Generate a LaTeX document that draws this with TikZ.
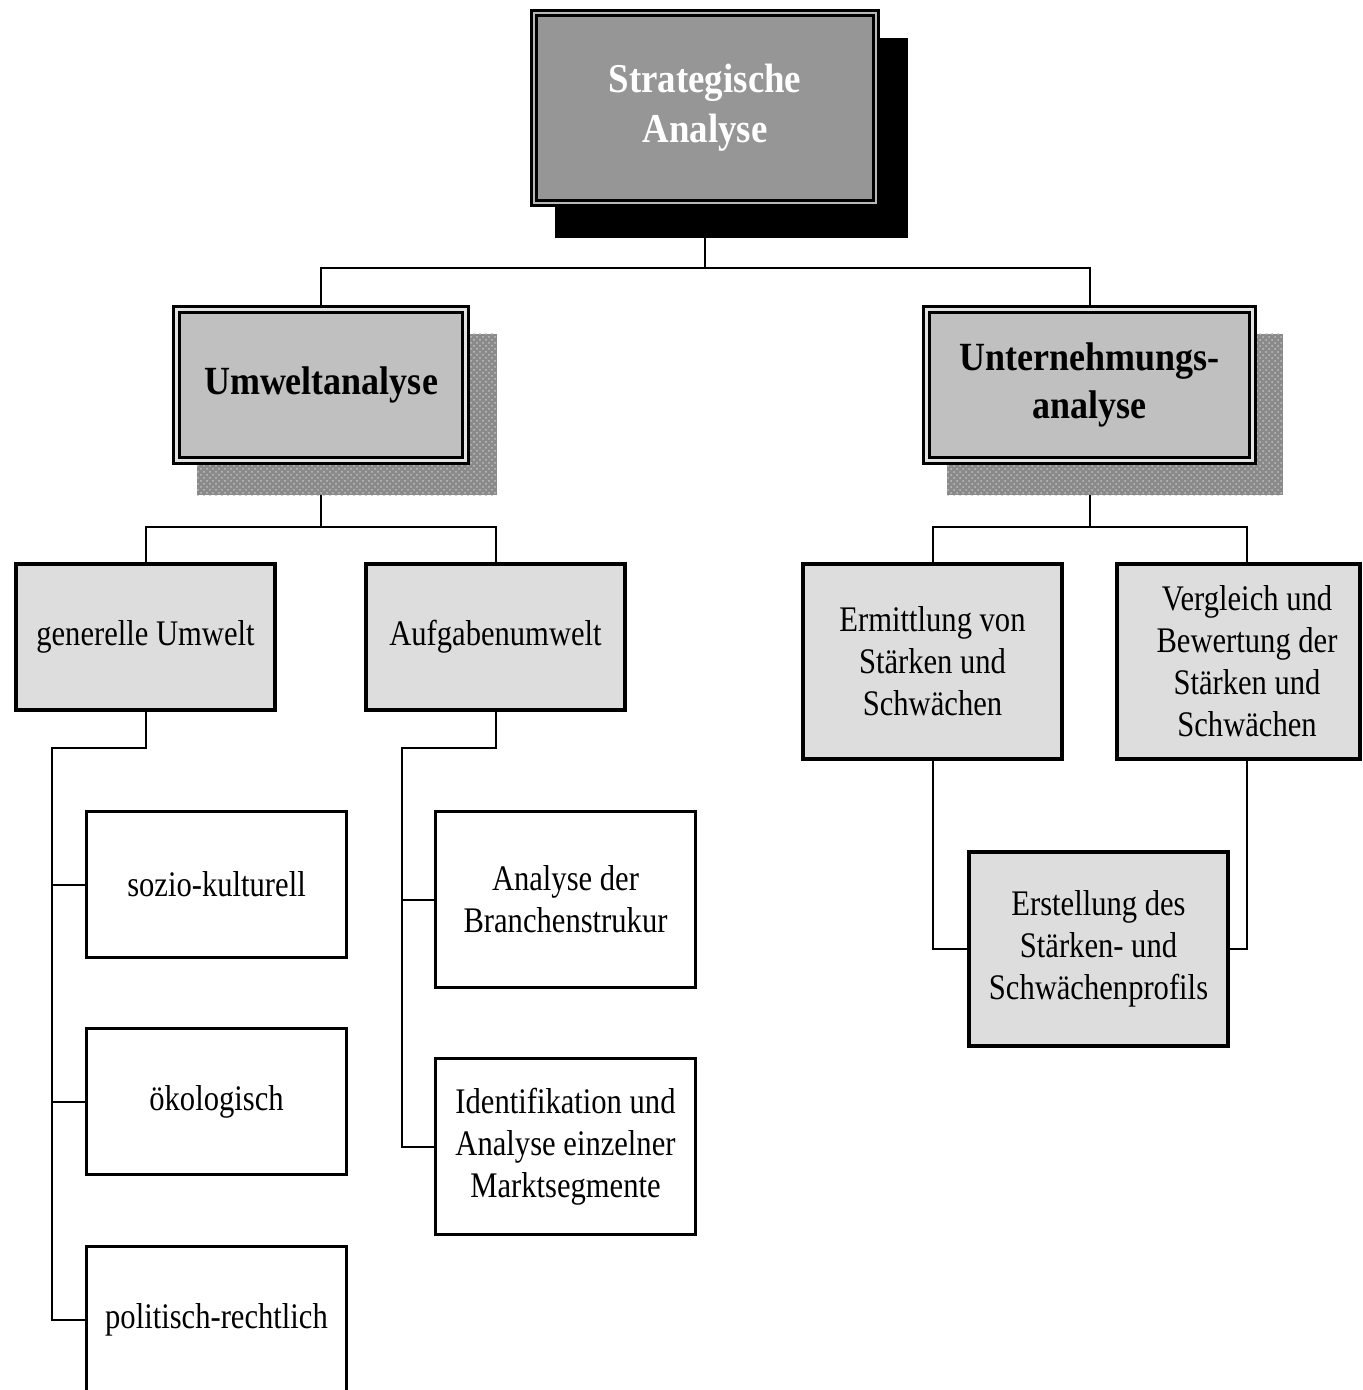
\documentclass[tikz,border=0pt]{standalone}
\usepackage{fontspec}
\setmainfont{Liberation Serif}
\newfontfamily\narrowserif[FakeStretch=0.85]{Liberation Serif}
\newfontfamily\headserif[FakeStretch=0.9]{Liberation Serif}
\usepackage{tikz}
\usetikzlibrary{patterns}
\definecolor{topfill}{HTML}{969696}
\definecolor{midfill}{HTML}{C0C0C0}
\definecolor{lowfill}{HTML}{DDDDDD}
\definecolor{gapgray}{HTML}{B8B8B8}
\definecolor{dotgray}{HTML}{8A8A8A}
\definecolor{dotlight}{HTML}{BEBEBE}
\newcommand\topfont{\headserif\fontsize{20.5}{25}\selectfont\bfseries}
\newcommand\headfont{\headserif\fontsize{20}{24}\selectfont\bfseries}
\newcommand\leaffont{\narrowserif\fontsize{18}{21}\selectfont}
\tikzset{blackshade/.style={fill=black, inner sep=0pt}}
\tikzset{dotshade/.style={fill=dotgray, inner sep=0pt, postaction={pattern=crosshatch dots, pattern color=dotlight}}}
\tikzset{topbox/.style={draw, fill=topfill, line width=1.6pt, double=gapgray, double distance=1.2pt, align=center, text=white, font=\topfont}}
\tikzset{midbox/.style={draw, fill=midfill, line width=1.6pt, double=gapgray!40!white, double distance=1.2pt, align=center, font=\headfont}}
\tikzset{lowbox/.style={draw, fill=lowfill, line width=1.75pt, align=center, font=\leaffont}}
\tikzset{leafbox/.style={draw, fill=white, line width=1.75pt, align=center, font=\leaffont, minimum width=130pt}}
\tikzset{conn/.style={line width=1pt}}

\begin{document}
\begin{tikzpicture}[x=0.5pt,y=-0.5pt]
    \clip (0,0) rectangle (1362,1390);

    \node[blackshade, minimum width=176.5pt, minimum height=100pt] at (731.5,138) (sash){};
    \node[topbox, minimum width=171pt, minimum height=95pt] at (705,108) (sa){Strategische\\Analyse};

    \node[dotshade, minimum width=150pt, minimum height=80.5pt] at (347,414.5) (umsh){};
    \node[midbox, minimum width=144.5pt, minimum height=75.5pt] at (321,385) (um){Umweltanalyse};
    \node[dotshade, minimum width=168pt, minimum height=80.5pt] at (1115,414.5) (unsh){};
    \node[midbox, minimum width=163pt, minimum height=75.5pt] at (1089.5,385) (un){Unternehmungs-\\analyse};

    \node[lowbox, minimum width=129.5pt, minimum height=73pt] at (145.5,637) (gen){generelle Umwelt};
    \node[lowbox, minimum width=129.5pt, minimum height=73pt] at (495.5,637) (auf){Aufgabenumwelt};
    \node[lowbox, minimum width=129.5pt, minimum height=97.5pt] at (932.5,661.5) (erm){Ermittlung von\\Stärken und\\Schwächen};
    \node[lowbox, minimum width=121.5pt, minimum height=97.5pt] at (1238.5,661.5) (vgl){};
    \node[align=center, font=\leaffont] at (1247,661.5) (vgltxt){Vergleich und\\Bewertung der\\Stärken und\\Schwächen};
    \node[lowbox, minimum width=129.5pt, minimum height=97pt] at (1098.5,949) (ers){Erstellung des\\Stärken- und\\Schwächenprofils};

    \node[leafbox, minimum height=73pt] at (216.5,884.5) (soz){sozio-kulturell};
    \node[leafbox, minimum height=73pt] at (216.5,1101.5) (oek){ökologisch};
    \node[leafbox, minimum height=73pt] at (216.5,1319.5) (pol){politisch-rechtlich};
    \node[leafbox, minimum height=88pt] at (565.5,899.5) (ana){Analyse der\\Branchenstrukur};
    \node[leafbox, minimum height=88pt] at (565.5,1146.5) (idf){Identifikation und\\Analyse einzelner\\Marktsegmente};

    \coordinate (j1) at (705,268);
    \draw[conn] (sa.south |- sash.south) -- (j1) -| (um.north);
    \draw[conn] (j1) -| (un.north);

    \coordinate (j2) at (321,527);
    \draw[conn] (um.south |- umsh.south) -- (j2) -| (gen.north);
    \draw[conn] (j2) -| (auf.north);

    \coordinate (j3) at (1089.5,527);
    \draw[conn] (un.south |- unsh.south) -- (j3) -| (erm.north);
    \draw[conn] (j3) -| (vgltxt |- vgl.north);
    \draw[conn] (erm.south) |- (ers.west);
    \draw[conn] (vgltxt |- vgl.south) |- (ers.east);

    \coordinate (g1) at (52,748);
    \draw[conn] (gen.south) |- (g1) |- (pol.west);
    \draw[conn] (g1 |- soz.west) -- (soz.west);
    \draw[conn] (g1 |- oek.west) -- (oek.west);

    \coordinate (a1) at (402,748);
    \draw[conn] (auf.south) |- (a1) |- (idf.west);
    \draw[conn] (a1 |- ana.west) -- (ana.west);
\end{tikzpicture}
\end{document}
